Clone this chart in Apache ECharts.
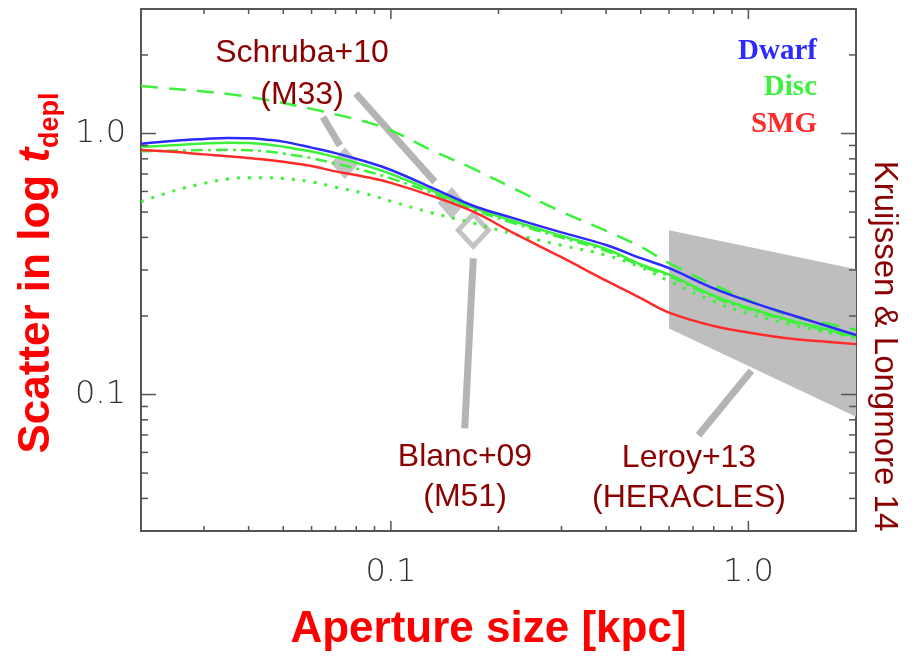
<!DOCTYPE html>
<html><head><meta charset="utf-8">
<script src="https://cdn.jsdelivr.net/npm/echarts@6/dist/echarts.min.js"></script>
<style>html,body{margin:0;padding:0;background:#fff}#c{width:917px;height:657px}</style>
</head><body><div id="c"></div>
<script>
// ---- data ----
const apertureKpc = [0.02,0.025,0.03,0.035,0.04,0.045,0.05,0.06,0.07,0.085,0.1,0.13,0.17,0.22,0.3,0.4,0.5,0.6,0.8,1.0,1.3,1.6,2.0];
const dwarf       = [0.914,0.939,0.953,0.962,0.960,0.947,0.931,0.883,0.841,0.781,0.725,0.621,0.529,0.474,0.418,0.374,0.333,0.305,0.255,0.228,0.203,0.186,0.169];
const disc        = [0.887,0.903,0.915,0.921,0.919,0.908,0.891,0.853,0.812,0.754,0.700,0.606,0.520,0.462,0.406,0.361,0.315,0.288,0.239,0.215,0.193,0.180,0.167];
const discDashed  = [1.520,1.481,1.449,1.417,1.381,1.345,1.310,1.243,1.184,1.109,1.029,0.863,0.733,0.617,0.502,0.424,0.368,0.319,0.263,0.230,0.201,0.189,0.177];
const discDashDot = [0.856,0.860,0.864,0.866,0.862,0.853,0.838,0.805,0.767,0.719,0.673,0.593,0.511,0.454,0.399,0.355,0.311,0.284,0.236,0.212,0.191,0.178,0.166];
const discDotted  = [0.548,0.606,0.644,0.670,0.677,0.677,0.673,0.653,0.623,0.588,0.550,0.497,0.454,0.412,0.373,0.342,0.307,0.272,0.227,0.204,0.186,0.175,0.165];
const smg         = [0.864,0.849,0.832,0.819,0.805,0.793,0.779,0.751,0.716,0.682,0.647,0.577,0.502,0.416,0.336,0.273,0.234,0.206,0.183,0.173,0.164,0.160,0.156];

const schrubaM33   = [[0.0744, 0.77]];
const blancM51     = [[0.148, 0.542]];
const blancM51Open = [[0.170, 0.426]];
const leroyBand    = [[0.6, 0.426], [2.0, 0.302], [2.0, 0.0822], [0.6, 0.179]];
const leaderLines  = [
  [[0.0646, 1.157], [0.0720, 0.899]],
  [[0.0798, 1.423], [0.1327, 0.6527]],
  [[0.170, 0.3323], [0.1609, 0.0742]],
  [[1.0195, 0.1234], [0.7249, 0.0698]]
];

const X_MIN = 0.02, X_MAX = 2, Y_MIN = 0.03, Y_MAX = 3;
const xMajorTicks = [0.1, 1];   const xMajorLabels = ['0.1', '1.0'];
const yMajorTicks = [0.1, 1];   const yMajorLabels = ['0.1', '1.0'];
const xMinorTicks = [0.03,0.04,0.05,0.06,0.07,0.08,0.09,0.2,0.3,0.4,0.5,0.6,0.7,0.8,0.9];
const yMinorTicks = [0.04,0.05,0.06,0.07,0.08,0.09,0.2,0.3,0.4,0.5,0.6,0.7,0.8,0.9,2];

// ---- styles ----
const BLUE = '#2b2bff', GREEN = '#3cf03c', RED = '#ff2b2b', DARKRED = '#8b0000', GRAY = '#b4b4b4';
const AX = '#555';
const SMOOTH = 0.4;

function pairs(ys) { return apertureKpc.map((x, i) => [x, ys[i]]); }
function labelFor(ticks, labels) {
  return v => {
    const i = ticks.findIndex(t => Math.abs(Math.log10(t) - Math.log10(v)) < 1e-6);
    return i >= 0 ? labels[i] : '';
  };
}

function renderTicks(params, api) {
  const ch = [];
  const add = (x1, y1, x2, y2) => ch.push({ type: 'line', shape: { x1, y1, x2, y2 }, style: { stroke: AX, lineWidth: 1.5 } });
  const bottom = api.coord([X_MIN, Y_MIN])[1], top = api.coord([X_MIN, Y_MAX])[1];
  const left = api.coord([X_MIN, Y_MIN])[0], right = api.coord([X_MAX, Y_MIN])[0];
  xMajorTicks.forEach(v => { const x = api.coord([v, Y_MIN])[0]; add(x, bottom, x, bottom - 10); add(x, top, x, top + 10); });
  xMinorTicks.forEach(v => { const x = api.coord([v, Y_MIN])[0]; add(x, bottom, x, bottom - 5); add(x, top, x, top + 5); });
  yMajorTicks.forEach(v => { const y = api.coord([X_MIN, v])[1]; add(left, y, left + 15, y); add(right, y, right - 15, y); });
  yMinorTicks.forEach(v => { const y = api.coord([X_MIN, v])[1]; add(left, y, left + 7, y); add(right, y, right - 7, y); });
  return { type: 'group', children: ch };
}

function renderBand(params, api) {
  const pts = leroyBand.map(p => api.coord(p));
  return { type: 'polygon', shape: { points: pts }, style: { fill: '#bebebe' } };
}

function renderLeaders(params, api) {
  const seg = leaderLines[params.dataIndex];
  const a = api.coord(seg[0]), b = api.coord(seg[1]);
  return { type: 'line', shape: { x1: a[0], y1: a[1], x2: b[0], y2: b[1] }, style: { stroke: GRAY, lineWidth: 7 } };
}

const chart = echarts.init(document.getElementById('c'), null, { renderer: 'canvas' });
const annFont = { fontFamily: 'Liberation Sans', fontSize: 32, fill: DARKRED, align: 'center', verticalAlign: 'middle' };
const legFont = { fontFamily: 'Liberation Serif', fontWeight: 'bold', fontSize: 29, align: 'right', verticalAlign: 'middle' };

chart.setOption({
  animation: false,
  backgroundColor: '#fff',
  grid: { left: 141, right: 61, top: 9, bottom: 124, show: true, borderColor: AX, borderWidth: 2, backgroundColor: 'transparent' },
  xAxis: {
    type: 'log', logBase: 10, min: X_MIN, max: X_MAX,
    name: 'Aperture size [kpc]', nameLocation: 'middle', nameGap: 77,
    nameTextStyle: { fontFamily: 'Liberation Sans', fontWeight: 'bold', fontSize: 44, color: '#ff0000', padding: [0, 20, 0, 0] },
    axisLine: { show: false }, axisTick: { show: false }, splitLine: { show: false }, minorTick: { show: false },
    axisLabel: { margin: 26, fontFamily: 'DejaVu Sans', fontWeight: 'lighter', fontSize: 32, color: '#333',
                 showMinLabel: false, showMaxLabel: false, formatter: labelFor(xMajorTicks, xMajorLabels) }
  },
  yAxis: {
    type: 'log', logBase: 10, min: Y_MIN, max: Y_MAX,
    name: '{a|Scatter in log }{b|t}{c|depl}', nameLocation: 'middle', nameGap: 77, nameRotate: 90,
    nameTextStyle: {
      padding: [0, 6, 0, 0],
      rich: {
        a: { fontFamily: 'Liberation Sans', fontWeight: 'bold', fontSize: 44, color: '#ff0000', lineHeight: 54, verticalAlign: 'middle' },
        b: { fontFamily: 'Liberation Sans', fontWeight: 'bold', fontStyle: 'italic', fontSize: 44, color: '#ff0000', lineHeight: 54, verticalAlign: 'middle' },
        c: { fontFamily: 'Liberation Sans', fontWeight: 'bold', fontSize: 27, color: '#ff0000', lineHeight: 27, verticalAlign: 'bottom' }
      }
    },
    axisLine: { show: false }, axisTick: { show: false }, splitLine: { show: false },
    axisLabel: { margin: 15, fontFamily: 'DejaVu Sans', fontWeight: 'lighter', fontSize: 32, color: '#333',
                 showMinLabel: false, showMaxLabel: false, formatter: labelFor(yMajorTicks, yMajorLabels) }
  },
  series: [
    { type: 'custom', name: 'HERACLES band', renderItem: renderBand, data: [[X_MIN, Y_MIN]], z: 1, silent: true },
    { type: 'custom', name: 'leaders', renderItem: renderLeaders, data: leaderLines.map(s => s[0]), z: 2, silent: true },
    { type: 'scatter', name: 'Schruba+10', data: schrubaM33, symbol: 'diamond', symbolSize: [28, 32], itemStyle: { color: GRAY }, z: 2 },
    { type: 'scatter', name: 'Blanc+09', data: blancM51, symbol: 'diamond', symbolSize: [28, 32], itemStyle: { color: GRAY }, z: 2 },
    { type: 'scatter', name: 'Blanc+09 open', data: blancM51Open, symbol: 'diamond', symbolSize: [30, 32],
      itemStyle: { color: 'rgba(0,0,0,0)', borderColor: GRAY, borderWidth: 5 }, z: 2 },
    { type: 'line', name: 'Disc dashed', data: pairs(discDashed), smooth: SMOOTH, symbol: 'none', z: 3,
      lineStyle: { color: GREEN, width: 2.5, type: [17, 11] } },
    { type: 'line', name: 'Disc dotted', data: pairs(discDotted), smooth: SMOOTH, symbol: 'none', z: 3,
      lineStyle: { color: GREEN, width: 3, type: [3, 8] } },
    { type: 'line', name: 'Disc dash-dot', data: pairs(discDashDot), smooth: SMOOTH, symbol: 'none', z: 3,
      lineStyle: { color: GREEN, width: 2.5, type: [12, 5, 3, 5] } },
    { type: 'line', name: 'SMG', data: pairs(smg), smooth: SMOOTH, symbol: 'none', z: 4, lineStyle: { color: RED, width: 2.5 } },
    { type: 'line', name: 'Disc', data: pairs(disc), smooth: SMOOTH, symbol: 'none', z: 4, lineStyle: { color: GREEN, width: 2.5 } },
    { type: 'line', name: 'Dwarf', data: pairs(dwarf), smooth: SMOOTH, symbol: 'none', z: 5, lineStyle: { color: BLUE, width: 2.5 } },
    { type: 'custom', name: 'ticks', renderItem: renderTicks, data: [[X_MIN, Y_MIN]], z: 6, silent: true, clip: false }
  ],
  graphic: [
    { type: 'text', x: 817, y: 52, z: 10, style: Object.assign({ text: 'Dwarf', fill: BLUE }, legFont) },
    { type: 'text', x: 817, y: 88, z: 10, style: Object.assign({ text: 'Disc', fill: GREEN }, legFont) },
    { type: 'text', x: 817, y: 125, z: 10, style: Object.assign({ text: 'SMG', fill: RED }, legFont) },
    { type: 'text', x: 302, y: 74, z: 10, style: Object.assign({ text: 'Schruba+10\n(M33)', lineHeight: 42 }, annFont) },
    { type: 'text', x: 465, y: 477, z: 10, style: Object.assign({ text: 'Blanc+09\n(M51)', lineHeight: 40 }, annFont) },
    { type: 'text', x: 689, y: 478, z: 10, style: Object.assign({ text: 'Leroy+13\n(HERACLES)', lineHeight: 40 }, annFont) },
    { type: 'text', x: 884, y: 346, rotation: -Math.PI / 2, z: 10,
      style: { text: 'Kruijssen & Longmore 14', fontFamily: 'Liberation Sans', fontSize: 33, fill: DARKRED, align: 'center', verticalAlign: 'middle' } }
  ]
});
</script>
</body></html>
